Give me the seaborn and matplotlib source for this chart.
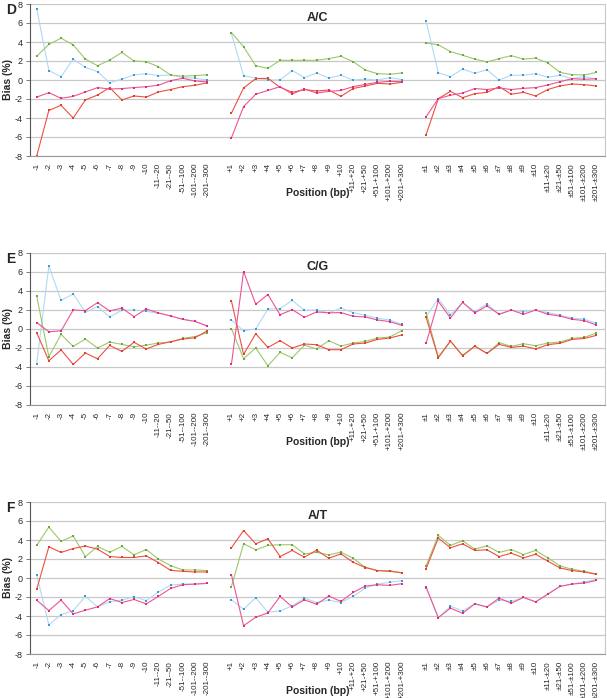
import numpy as np
import pandas as pd
import matplotlib
matplotlib.use("Agg")
import matplotlib.pyplot as plt
import seaborn as sns

# x categories (three blocks: upstream, downstream, both sides)
neg_labels = ["-1", "-2", "-3", "-4", "-5", "-6", "-7", "-8", "-9", "-10",
              "-11--20", "-21--50", "-51--100", "-101--200", "-201--300"]
pos_labels = ["+1", "+2", "+3", "+4", "+5", "+6", "+7", "+8", "+9", "+10",
              "+11-+20", "+21-+50", "+51-+100", "+101-+200", "+201-+300"]
pm_labels = ["±1", "±2", "±3", "±4", "±5", "±6", "±7", "±8", "±9", "±10",
             "±11-±20", "±21-±50", "±51-±100", "±101-±200", "±201-±300"]
panel_letters = ["D", "E", "F"]
panel_titles = ["A/C", "C/G", "A/T"]

# --- D: A/C (each list: 15 "-" values, 15 "+" values, 15 "±" values)
ac_blue = [7.5, 1.0, 0.35, 2.2, 1.33, 0.88, -0.3, 0.1, 0.53, 0.67, 0.46, 0.53, 0.25, 0.18, 0.0,
           4.9, 0.46, 0.2, 0.0, 0.0, 1.0, 0.25, 0.74, 0.2, 0.5, 0.0, 0.1, 0.0, 0.25, 0.05,
           6.2, 0.77, 0.35, 1.16, 0.7, 1.09, 0.0, 0.5, 0.5, 0.67, 0.28, 0.5, 0.14, 0.35, 0.07]
ac_green = [2.5, 3.75, 4.4, 3.7, 2.2, 1.5, 2.1, 2.9, 2.0, 1.93, 1.4, 0.53, 0.4, 0.46, 0.55,
            5.0, 3.5, 1.5, 1.23, 2.07, 2.07, 2.07, 2.07, 2.25, 2.5, 1.93, 1.05, 0.67, 0.6, 0.74,
            3.9, 3.7, 3.0, 2.6, 2.2, 1.9, 2.25, 2.56, 2.2, 2.3, 1.8, 0.8, 0.56, 0.53, 0.8]
ac_red = [-8.0, -3.2, -2.67, -4.0, -2.1, -1.58, -0.8, -2.1, -1.68, -1.8, -1.26, -1.0, -0.7, -0.56, -0.3,
          -3.5, -0.84, 0.14, 0.18, -0.77, -1.3, -1.0, -1.16, -1.05, -1.72, -0.9, -0.63, -0.35, -0.42, -0.25,
          -5.75, -1.96, -1.2, -1.86, -1.44, -1.3, -0.7, -1.5, -1.3, -1.68, -1.0, -0.63, -0.42, -0.49, -0.63]
ac_magenta = [-1.8, -1.33, -1.93, -1.72, -1.26, -0.8, -0.95, -0.9, -0.8, -0.7, -0.56, -0.07, 0.18, -0.1, -0.2,
              -6.1, -2.8, -1.5, -1.1, -0.7, -1.47, -0.95, -1.37, -1.2, -1.1, -0.7, -0.46, -0.25, -0.14, -0.18,
              -3.86, -1.96, -1.6, -1.37, -0.9, -1.0, -0.84, -1.0, -0.88, -0.8, -0.53, -0.18, 0.14, 0.07, 0.14]

# --- E: C/G
cg_blue = [-3.66, 6.65, 3.0, 3.7, 1.76, 2.36, 1.27, 1.97, 2.0, 1.87, 1.65, 1.37, 1.02, 0.8, 0.35,
           0.92, -0.18, 0.0, 2.1, 2.15, 3.0, 1.97, 2.0, 1.7, 2.2, 1.73, 1.44, 1.13, 0.95, 0.5,
           1.3, 3.2, 1.48, 2.8, 1.83, 2.64, 1.55, 2.0, 1.8, 2.0, 1.73, 1.44, 1.16, 1.02, 0.6]
cg_green = [3.45, -2.92, -0.56, -1.83, -1.06, -2.0, -1.37, -1.62, -1.87, -1.7, -1.48, -1.37, -0.99, -0.8, -0.39,
            0.04, -3.13, -2.0, -3.87, -2.46, -3.03, -1.7, -2.1, -1.23, -1.8, -1.48, -1.3, -0.95, -0.85, -0.18,
            1.72, -2.92, -1.27, -2.78, -1.8, -2.57, -1.44, -1.83, -1.55, -1.76, -1.48, -1.37, -0.99, -0.88, -0.42]
cg_red = [-0.39, -3.35, -2.2, -3.73, -2.53, -3.13, -1.73, -2.36, -1.4, -2.1, -1.62, -1.34, -1.06, -0.92, -0.21,
          2.96, -2.68, -0.5, -1.94, -1.23, -2.0, -1.58, -1.65, -2.18, -2.18, -1.58, -1.48, -1.1, -0.95, -0.63,
          1.23, -3.03, -1.27, -2.82, -1.8, -2.57, -1.62, -1.94, -1.8, -2.1, -1.65, -1.5, -1.1, -0.99, -0.67]
cg_magenta = [0.67, -0.28, -0.2, 2.0, 1.94, 2.78, 1.9, 2.2, 1.3, 2.1, 1.7, 1.37, 1.02, 0.8, 0.32,
              -3.73, 6.05, 2.6, 3.63, 1.5, 2.04, 1.23, 1.8, 1.7, 1.73, 1.34, 1.27, 0.95, 0.78, 0.39,
              -1.5, 2.92, 1.16, 2.8, 1.7, 2.43, 1.55, 2.0, 1.55, 2.0, 1.55, 1.37, 1.02, 0.88, 0.42]

# --- F: A/T
at_blue = [0.32, -4.95, -3.85, -3.43, -1.94, -3.04, -2.5, -2.33, -1.98, -2.37, -1.48, -0.74, -0.64, -0.64, -0.57,
           -2.3, -3.29, -2.08, -3.6, -3.46, -2.93, -2.12, -2.58, -2.33, -2.58, -1.94, -1.06, -0.64, -0.46, -0.28,
           -1.0, -4.2, -2.97, -3.46, -2.72, -3.04, -2.33, -2.47, -2.05, -2.51, -1.7, -0.88, -0.64, -0.42, -0.18]
at_green = [3.43, 5.37, 3.85, 4.42, 2.26, 3.32, 2.72, 3.32, 2.44, 3.0, 2.0, 1.3, 0.85, 0.85, 0.78,
            -0.92, 3.6, 2.97, 3.43, 3.5, 3.5, 2.54, 2.69, 2.44, 2.72, 2.08, 1.13, 0.78, 0.78, 0.53,
            1.27, 4.49, 3.43, 3.92, 3.04, 3.39, 2.69, 3.0, 2.47, 2.9, 2.12, 1.27, 0.92, 0.7, 0.42]
at_red = [-1.2, 3.29, 2.69, 3.1, 3.36, 3.04, 2.26, 2.16, 2.16, 2.33, 1.63, 0.81, 0.7, 0.64, 0.64,
          3.18, 5.0, 3.6, 4.13, 2.26, 2.9, 2.19, 2.93, 2.08, 2.54, 1.66, 1.1, 0.78, 0.7, 0.56,
          0.99, 4.2, 3.18, 3.6, 2.9, 2.97, 2.26, 2.61, 2.12, 2.5, 1.77, 1.06, 0.78, 0.64, 0.39]
at_magenta = [-2.33, -3.43, -2.33, -3.78, -3.39, -3.04, -2.16, -2.58, -2.26, -2.72, -1.94, -1.1, -0.71, -0.64, -0.57,
              0.35, -5.02, -4.13, -3.67, -1.94, -3.04, -2.3, -2.76, -1.9, -2.47, -1.52, -0.85, -0.71, -0.78, -0.6,
              -0.95, -4.17, -3.18, -3.71, -2.72, -3.04, -2.12, -2.65, -2.05, -2.51, -1.7, -0.88, -0.64, -0.53, -0.25]

panel_data = [
    {"blue": ac_blue, "green": ac_green, "red": ac_red, "magenta": ac_magenta},
    {"blue": cg_blue, "green": cg_green, "red": cg_red, "magenta": cg_magenta},
    {"blue": at_blue, "green": at_green, "red": at_red, "magenta": at_magenta},
]

# line colour, marker colour
styles = {
    "blue": ("#b0d9f3", "#3a9ad9"),
    "green": ("#9cc86a", "#6aaa3a"),
    "red": ("#ee5040", "#e0402e"),
    "magenta": ("#ec5595", "#dc2e7c"),
}
draw_order = ["blue", "green", "red", "magenta"]

sns.set_style("white")
plt.rcParams["font.family"] = ["Liberation Sans", "DejaVu Sans"]
plt.rcParams["axes.unicode_minus"] = False

all_labels = neg_labels + [""] + pos_labels + [""] + pm_labels
n_slots = len(all_labels)


def to_frame(values):
    rows = []
    for g in range(3):
        for i in range(15):
            rows.append({"x": g * 16 + i, "y": values[g * 15 + i], "block": g})
    return pd.DataFrame(rows)


fig = plt.figure(figsize=(6.07, 6.98), dpi=100)
H = 698.0
W = 607.0
tops = [4, 253, 502]
ax_h = 152

for k in range(3):
    top = tops[k]
    ax = fig.add_axes([30 / W, 1 - (top + ax_h) / H, 575 / W, ax_h / H])
    for name in draw_order:
        df = to_frame(panel_data[k][name])
        lc, mc = styles[name]
        sns.lineplot(data=df, x="x", y="y", units="block", estimator=None,
                     color=lc, linewidth=0.8,
                     marker="s", markersize=2.1, markerfacecolor=mc,
                     markeredgecolor=mc, markeredgewidth=0, ax=ax,
                     legend=False)

    ax.set_xlim(-0.55, n_slots - 0.3)
    ax.set_ylim(-8, 8)
    ax.set_yticks(np.arange(-8, 9, 2))
    ax.set_yticklabels([str(v) for v in range(-8, 9, 2)], fontsize=6.5)
    ax.yaxis.grid(True, color="#c8c8c8", linewidth=0.9)
    ax.xaxis.grid(False)
    ax.set_xticks(range(n_slots))
    ax.set_xticklabels(all_labels, rotation=90, fontsize=5.8)
    ax.set_xticks(np.arange(-0.5, n_slots, 1.0), minor=True)
    ax.tick_params(axis="x", which="major", length=0, pad=5)
    ax.tick_params(axis="x", which="minor", length=3, color="#888888", width=0.6)
    ax.tick_params(axis="y", length=3, color="#666666", width=0.6, pad=2, left=True)
    ax.spines["left"].set_color("#555555")
    ax.spines["left"].set_linewidth(0.8)
    ax.spines["bottom"].set_color("#999999")
    ax.spines["right"].set_color("#c8c8c8")
    ax.spines["top"].set_visible(False)
    ax.set_xlabel("")
    ax.set_ylabel("Bias (%)", fontsize=7.5, fontweight="bold")
    ax.yaxis.set_label_coords(-17 / 575, 0.5)

    ax.text(0.5, 0.905, panel_titles[k], transform=ax.transAxes, ha="center",
            va="center", fontsize=9, fontweight="bold")
    ax.text(0.5, -37 / ax_h, "Position (bp)", transform=ax.transAxes,
            ha="center", va="center", fontsize=7.5, fontweight="bold")
    fig.text(6 / W, 1 - (top + 6) / H, panel_letters[k], ha="left", va="center",
             fontsize=10, fontweight="bold")

fig.savefig("out.png", dpi=100)
